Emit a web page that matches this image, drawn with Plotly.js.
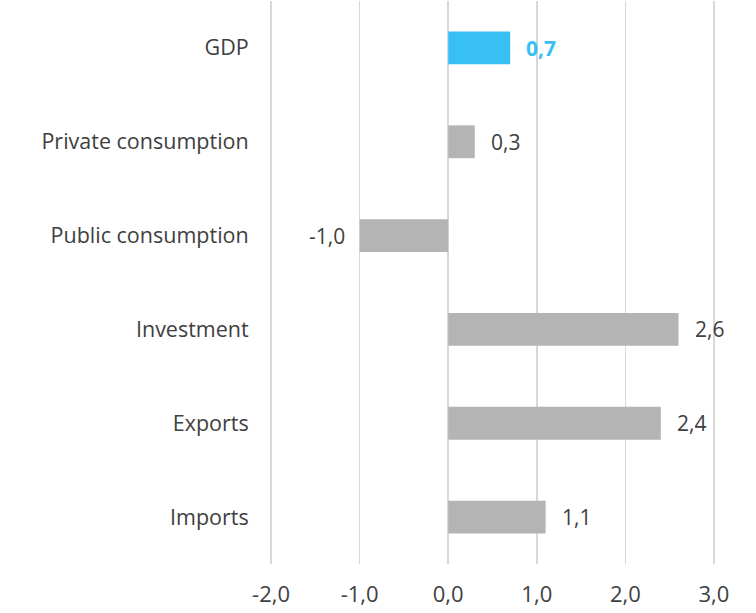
<!DOCTYPE html>
<html>
<head>
<meta charset="utf-8">
<script src="https://cdn.plot.ly/plotly-3.0.1.min.js"></script>
<style>html,body{margin:0;padding:0;background:#fff;}#chart{width:756px;height:613px;}</style>
</head>
<body>
<div id="chart"></div>
<script>
const categories = ["GDP", "Private consumption", "Public consumption", "Investment", "Exports", "Imports"];
const values = [0.7, 0.3, -1.0, 2.6, 2.4, 1.1];
const tickValues = [-2, -1, 0, 1, 2, 3];
const tickLabels = ["-2,0", "-1,0", "0,0", "1,0", "2,0", "3,0"];

const FONT = "'Open Sans', sans-serif";
const GRAY = "#b4b4b4";
const BLUE = "#38c0f5";
const TEXT = "#404040";

const colors = categories.map((c, i) => i === 0 ? BLUE : GRAY);
const fmt = v => v.toFixed(1).replace('.', ',');

const trace = {
  type: 'bar',
  orientation: 'h',
  x: values,
  y: categories,
  marker: {color: colors},
  width: 0.35,
  hoverinfo: 'none'
};

const annotations = values.map((v, i) => ({
  x: v,
  y: categories[i],
  xref: 'x', yref: 'y',
  text: i === 0 ? '<b>' + fmt(v) + '</b>' : fmt(v),
  showarrow: false,
  xanchor: v >= 0 ? 'left' : 'right',
  xshift: v >= 0 ? 14 : -13,
  font: {family: FONT, size: 21, color: i === 0 ? BLUE : TEXT}
}));

const layout = {
  width: 756, height: 613,
  margin: {l: 270, r: 41, t: 1, b: 49, pad: 0},
  paper_bgcolor: '#fff', plot_bgcolor: '#fff',
  showlegend: false,
  font: {family: FONT, size: 21, color: TEXT},
  xaxis: {
    range: [-2.012, 3.012],
    tickvals: tickValues,
    ticktext: tickLabels,
    showgrid: true, gridcolor: '#d9d9d9', gridwidth: 1.5,
    zeroline: false, showline: false,
    ticks: 'outside', ticklen: 11, tickcolor: 'rgba(0,0,0,0)',
    tickfont: {family: FONT, size: 22, color: TEXT},
    fixedrange: true
  },
  yaxis: {
    autorange: 'reversed',
    showgrid: false, zeroline: false, showline: false,
    ticks: 'outside', ticklen: 16, tickcolor: 'rgba(0,0,0,0)',
    tickfont: {family: FONT, size: 21.5, color: TEXT},
    fixedrange: true
  },
  annotations: annotations
};

Plotly.newPlot('chart', [trace], layout, {displayModeBar: false, staticPlot: true});
</script>
</body>
</html>
